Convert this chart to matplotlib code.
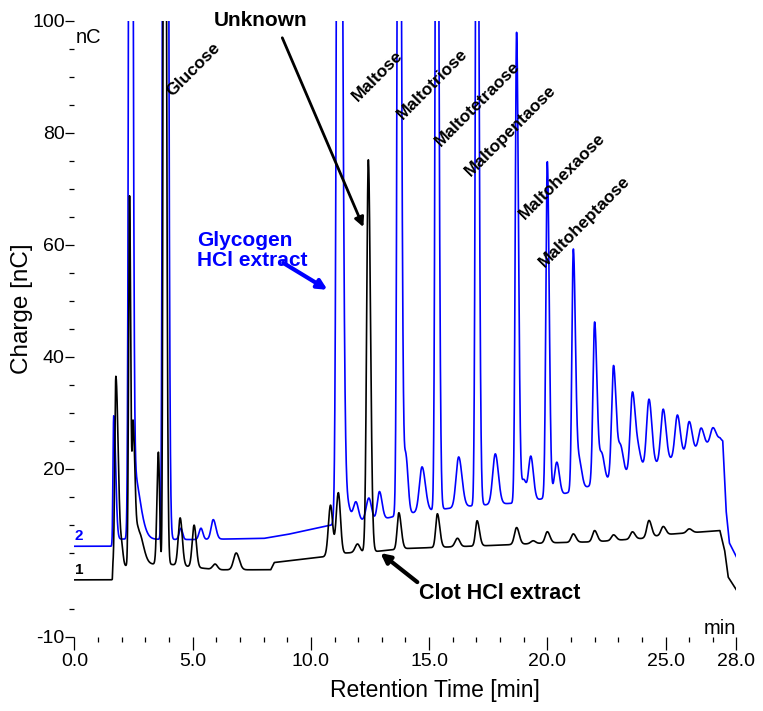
import numpy as np
import matplotlib.pyplot as plt
from matplotlib.ticker import FixedLocator

plt.rcParams['font.family'] = ['Liberation Sans', 'DejaVu Sans']
plt.rcParams['axes.unicode_minus'] = False

# baseline knots (retention time in min, charge in nC)
glyc_base_t = [0.0, 1.60, 1.62, 5.0, 8.0, 9.0, 10.4, 11.5, 13.0, 14.0, 15.5, 17.0,
               19.0, 20.5, 22.0, 23.5, 25.0, 26.5, 27.3, 27.42, 27.56, 27.7, 28.0]
glyc_base_v = [6.2, 6.2, 7.5, 7.4, 7.6, 8.3, 9.6, 10.5, 11.0, 12.0, 12.8, 13.5,
               14.0, 15.3, 17.2, 19.5, 21.3, 23.8, 25.5, 25.0, 12.7, 6.8, 4.3]

clot_base_t = [0.0, 1.60, 1.62, 3.0, 4.0, 5.0, 6.0, 8.3, 8.45, 10.5, 11.5, 12.8,
               14.0, 16.0, 18.0, 20.0, 22.0, 24.0, 25.0, 27.3, 27.5, 27.65, 28.0]
clot_base_v = [0.2, 0.2, 2.5, 3.0, 3.0, 2.5, 2.0, 2.0, 3.3, 4.3, 5.0, 5.3,
               5.8, 6.1, 6.4, 6.8, 7.0, 7.6, 8.3, 9.0, 5.5, 0.7, -1.6]

# peaks: apex time, height above baseline, leading and trailing widths
glyc_pk_t = [1.66, 2.37, 2.45, 3.83, 4.50, 5.35, 5.87,
             11.18, 11.55, 11.90, 12.45, 12.90,
             13.72, 14.02, 14.70, 15.32, 16.25, 17.02, 17.80,
             18.70, 19.00, 19.30, 20.00, 20.40, 21.10, 21.35,
             22.00, 22.30, 22.80, 23.10, 23.60, 23.85, 24.30, 24.90,
             25.50, 26.00, 26.50, 27.00]
glyc_pk_h = [22, 350, 13, 600, 2, 2, 3.5,
             250, 3, 3.5, 4, 5,
             200, 10, 8, 180, 9, 160, 9,
             84, 4, 8, 60, 6, 43, 5,
             29, 5, 20, 5, 14, 3, 12, 9.5,
             7.5, 5.5, 3.5, 2.5]
glyc_pk_wl = [0.03, 0.055, 0.05, 0.06, 0.07, 0.08, 0.09,
              0.075, 0.11, 0.11, 0.11, 0.09,
              0.06, 0.07, 0.11, 0.055, 0.11, 0.055, 0.11,
              0.055, 0.10, 0.10, 0.06, 0.10, 0.06, 0.10,
              0.07, 0.10, 0.08, 0.10, 0.09, 0.10, 0.10, 0.10,
              0.10, 0.10, 0.10, 0.10]
glyc_pk_wr = [0.08, 0.07, 0.29, 0.085, 0.07, 0.08, 0.11,
              0.12, 0.11, 0.11, 0.11, 0.11,
              0.09, 0.09, 0.14, 0.08, 0.14, 0.08, 0.13,
              0.08, 0.10, 0.11, 0.08, 0.11, 0.09, 0.11,
              0.10, 0.11, 0.11, 0.11, 0.12, 0.11, 0.12, 0.12,
              0.12, 0.12, 0.12, 0.12]

clot_pk_t = [1.75, 2.00, 2.33, 2.48, 2.70, 3.55, 3.80, 4.47, 5.06, 5.95, 6.84,
             10.83, 11.16, 11.97, 12.43, 13.72, 15.35, 16.20, 17.03,
             18.70, 19.40, 20.00, 21.10, 22.00, 22.80, 23.60, 24.30, 24.90, 26.00]
clot_pk_h = [34, 3, 66, 25, 6, 20, 250, 8.5, 7.5, 1, 3,
             9, 11, 1.5, 70, 6.5, 6, 1.5, 4.5,
             3, 0.5, 2, 1.5, 2, 1, 1.3, 3, 1.5, 0.7]
clot_pk_wl = [0.045, 0.06, 0.04, 0.04, 0.08, 0.06, 0.04, 0.08, 0.08, 0.10, 0.11,
              0.09, 0.09, 0.10, 0.07, 0.07, 0.07, 0.10, 0.07,
              0.09, 0.10, 0.09, 0.09, 0.09, 0.09, 0.09, 0.09, 0.09, 0.10]
clot_pk_wr = [0.10, 0.06, 0.05, 0.08, 0.20, 0.05, 0.07, 0.09, 0.09, 0.10, 0.13,
              0.09, 0.09, 0.10, 0.09, 0.10, 0.10, 0.10, 0.10,
              0.11, 0.10, 0.11, 0.11, 0.11, 0.11, 0.11, 0.11, 0.11, 0.12]

sugar_names = ['Glucose', 'Maltose', 'Maltotriose', 'Maltotetraose',
               'Maltopentaose', 'Maltohexaose', 'Maltoheptaose']
sugar_label_t = [4.13, 11.97, 13.88, 15.49, 16.76, 19.05, 19.90]
sugar_label_v = [86.4, 85.5, 82.3, 77.5, 72.1, 64.5, 55.9]


def chromatogram(t, base_t, base_v, pk_t, pk_h, pk_wl, pk_wr):
    y = np.interp(t, base_t, base_v)
    for t0, h, wl, wr in zip(pk_t, pk_h, pk_wl, pk_wr):
        w = np.where(t < t0, wl, wr)
        y = y + h * np.exp(-0.5 * ((t - t0) / w) ** 2)
    return y


t = np.linspace(0, 28, 14001)
glyc = chromatogram(t, glyc_base_t, glyc_base_v, glyc_pk_t, glyc_pk_h, glyc_pk_wl, glyc_pk_wr)
clot = chromatogram(t, clot_base_t, clot_base_v, clot_pk_t, clot_pk_h, clot_pk_wl, clot_pk_wr)

fig = plt.figure(figsize=(7.63, 7.11), dpi=100)
ax = fig.add_axes([0.0976, 0.1041, 0.8676, 0.8664])
ax.plot(t, glyc, color='#0000ff', lw=1.2)
ax.plot(t, clot, color='black', lw=1.2)
ax.set_xlim(0, 28)
ax.set_ylim(-10, 100)

for s in ax.spines.values():
    s.set_visible(False)

ax.xaxis.set_major_locator(FixedLocator([0, 5, 10, 15, 20, 25, 28]))
ax.xaxis.set_minor_locator(FixedLocator([m for m in range(1, 28) if m % 5]))
ax.set_xticklabels(['0.0', '5.0', '10.0', '15.0', '20.0', '25.0', '28.0'])
ax.yaxis.set_major_locator(FixedLocator([-10, 20, 40, 60, 80, 100]))
ax.yaxis.set_minor_locator(FixedLocator([v for v in range(-5, 100, 5) if v % 20]))
ax.tick_params(axis='x', which='major', length=9.4, width=0.9, pad=2, labelsize=14)
ax.tick_params(axis='x', which='minor', length=3.6, width=0.9)
ax.tick_params(axis='y', which='major', length=6.5, width=0.9, pad=0.5, labelsize=14)
ax.tick_params(axis='y', which='minor', length=3.6, width=0.9)

ax.text(0.05, 97, 'nC', fontsize=14.5, ha='left', va='center')
ax.text(28, -10.2, 'min', fontsize=14.5, ha='right', va='bottom')
fig.text(22 / 763, 1 - 309 / 711, 'Charge [nC]', rotation=90, fontsize=17.5,
         ha='center', va='center')
fig.text(435 / 763, 1 - 690 / 711, 'Retention Time [min]', fontsize=16.5,
         ha='center', va='center')

# trace numbers
ax.text(0.19, 8.0, '2', color='#0000ff', fontsize=11, fontweight='bold', ha='center', va='center')
ax.text(0.19, 2.0, '1', color='black', fontsize=11, fontweight='bold', ha='center', va='center')

for name, lt, lv in zip(sugar_names, sugar_label_t, sugar_label_v):
    ax.text(lt, lv, name, rotation=45, rotation_mode='anchor', ha='left', va='baseline',
            fontsize=12.5, fontweight='bold')

ax.text(7.86, 100, 'Unknown', fontsize=15, fontweight='bold', ha='center', va='center',
        clip_on=False)
ax.annotate('', xy=(12.22, 63.2), xytext=(8.79, 97), annotation_clip=False,
            arrowprops=dict(arrowstyle='-|>', color='black', lw=2, mutation_scale=14,
                            shrinkA=0, shrinkB=0))
ax.text(5.19, 59, 'Glycogen\nHCl extract', fontsize=15, fontweight='bold', color='#0000ff',
        ha='left', va='center', linespacing=1.1)
ax.annotate('', xy=(10.7, 52), xytext=(8.83, 56.8),
            arrowprops=dict(arrowstyle='-|>', color='#0000ff', lw=3, mutation_scale=14,
                            shrinkA=0, shrinkB=0))
ax.text(14.56, -2.3, 'Clot HCl extract', fontsize=15.5, fontweight='bold', ha='left', va='center')
ax.annotate('', xy=(12.94, 5), xytext=(14.5, -0.2),
            arrowprops=dict(arrowstyle='-|>', color='black', lw=3, mutation_scale=14,
                            shrinkA=0, shrinkB=0))

fig.savefig('out.png', dpi=100)
